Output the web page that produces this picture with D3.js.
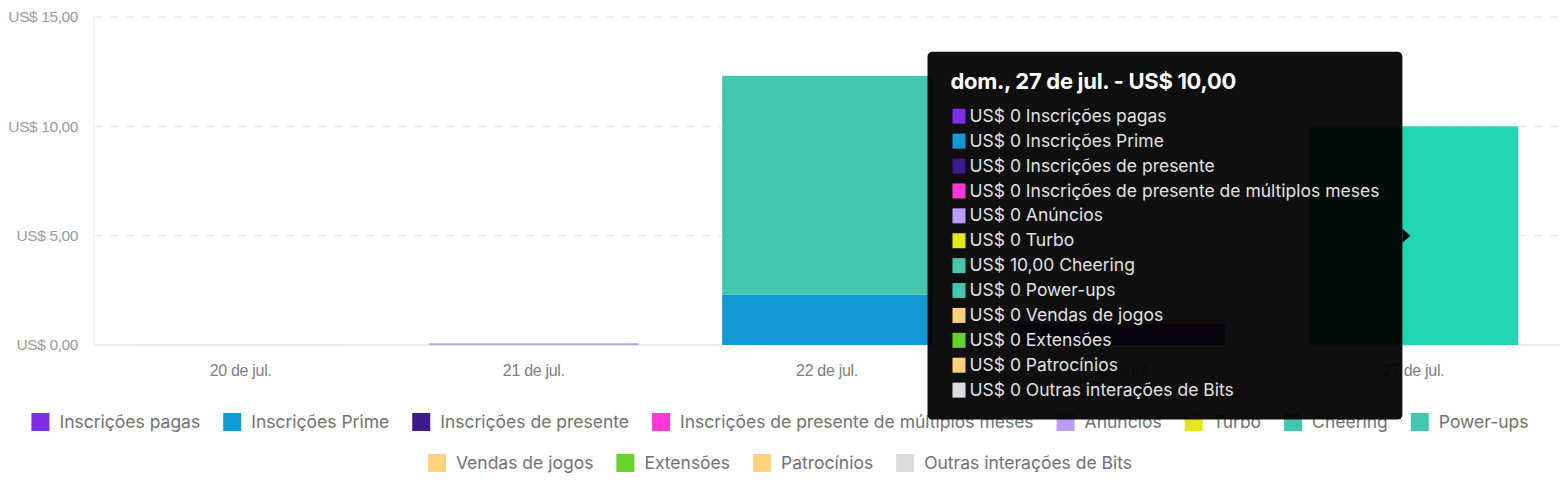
<!DOCTYPE html>
<html>
<head>
<meta charset="utf-8">
<script src="https://cdn.jsdelivr.net/npm/d3@7"></script>
<style>
  html, body { margin: 0; padding: 0; background: #ffffff; }
  svg { display: block; font-family: Inter, "Noto Sans", sans-serif; }
</style>
</head>
<body>
<svg id="chart" width="1560" height="488"></svg>
<script>
// ---- data ----
const categories = ["20 de jul.", "21 de jul.", "22 de jul.", "26 de jul.", "27 de jul."];
const seriesNames = [
  "Inscrições pagas", "Inscrições Prime", "Inscrições de presente",
  "Inscrições de presente de múltiplos meses", "Anúncios", "Turbo",
  "Cheering", "Power-ups", "Vendas de jogos", "Extensões", "Patrocínios",
  "Outras interações de Bits"
];
const seriesColors = [
  "#7d2ee6", "#1399d6", "#3e1a8f", "#fb3ad5", "#bd9dfb", "#e6e61a",
  "#43c6ad", "#43c6ad", "#fdd27c", "#66d22c", "#fdd27c", "#dcdcdc"
];
const inscricoesPagas   = [0, 0, 0, 0.98, 0];
const inscricoesPrime   = [0, 0, 2.31, 0, 0];
const inscricoesPresente = [0, 0, 0, 0, 0];
const presenteMultiplos = [0, 0, 0, 0, 0];
const anuncios          = [0, 0.08, 0, 0, 0];
const turbo             = [0, 0, 0, 0, 0];
const cheering          = [0, 0, 10.00, 0, 10.00];
const powerUps          = [0, 0, 0, 0, 0];
const vendasJogos       = [0, 0, 0, 0, 0];
const extensoes         = [0, 0, 0, 0, 0];
const patrocinios       = [0, 0, 0, 0, 0];
const outrasBits        = [0.02, 0, 0, 0, 0];
const yTicks = [0, 5, 10, 15];
const hoveredIndex = 4;
const tooltipTitle = "dom., 27 de jul. - US$ 10,00";

const seriesValues = [inscricoesPagas, inscricoesPrime, inscricoesPresente, presenteMultiplos,
  anuncios, turbo, cheering, powerUps, vendasJogos, extensoes, patrocinios, outrasBits];

// ---- build table ----
const table = categories.map((c, i) => {
  const row = { cat: c };
  seriesNames.forEach((s, j) => row[s] = seriesValues[j][i]);
  return row;
});
const stacked = d3.stack().keys(seriesNames)(table);

const svg = d3.select("#chart");
const fmt = v => "US$ " + d3.format(".2f")(v).replace(".", ",");
const fmtRow = v => v === 0 ? "US$ 0" : fmt(v);

const x = d3.scaleBand().domain(categories).range([94, 1560]).paddingInner(0.285).paddingOuter(0.1425);
const y = d3.scaleLinear().domain([0, 15]).range([345, 17]);

// grid
const grid = svg.append("g");
grid.selectAll("line.g").data(yTicks.filter(t => t > 0)).join("line")
  .attr("x1", 94).attr("x2", 1560)
  .attr("y1", d => y(d)).attr("y2", d => y(d))
  .attr("stroke", "#e3e3e3").attr("stroke-width", 1).attr("stroke-dasharray", "8,8");
grid.append("line").attr("x1", 94).attr("x2", 1560).attr("y1", y(0)).attr("y2", y(0))
  .attr("stroke", "#e6e6e8").attr("stroke-width", 1.5);
grid.append("line").attr("x1", 94).attr("x2", 94).attr("y1", y(15)).attr("y2", y(0))
  .attr("stroke", "#ececec").attr("stroke-width", 1);

// y axis
const yAxis = svg.append("g").attr("transform", "translate(86,0)")
  .call(d3.axisLeft(y).tickValues(yTicks).tickFormat(fmt).tickSize(0).tickPadding(8));
yAxis.select(".domain").remove();
yAxis.selectAll("text").attr("fill", "#9b9b9b").style("font-size", "15.5px").style("letter-spacing", "-0.4px");

// x axis
const xAxis = svg.append("g").attr("transform", `translate(0,${y(0)})`)
  .call(d3.axisBottom(x).tickSize(0).tickPadding(20));
xAxis.select(".domain").remove();
xAxis.selectAll("text").attr("fill", "#7e7e7e").style("font-size", "16px").style("letter-spacing", "-0.3px");

// bars
function hoverColor(c) {
  const h = d3.hsl(c);
  h.s = Math.min(1, h.s * 1.4); h.l = h.l * 0.92;
  return h.formatHex();
}
svg.append("g").selectAll("g").data(stacked).join("g")
  .each(function(layer, j) {
    d3.select(this).selectAll("rect").data(layer).join("rect")
      .attr("x", d => x(d.data.cat))
      .attr("width", x.bandwidth())
      .attr("y", d => y(d[1]))
      .attr("height", d => Math.max(0, y(d[0]) - y(d[1])))
      .attr("fill", (d, i) => i === hoveredIndex ? hoverColor(seriesColors[j]) : seriesColors[j]);
  });

// legend
const legend = svg.append("g").style("font-size", "17.5px");
const items = seriesNames.map((s, j) => {
  const t = legend.append("text").text(s).attr("fill", "#727272");
  return { s, j, t, w: t.node().getComputedTextLength() };
});
const sw = 18, gapT = 10, gapI = 23, maxW = 1535;
const rows = [[]];
let cur = 0;
items.forEach(it => {
  const iw = sw + gapT + it.w;
  const need = (rows[rows.length - 1].length ? gapI : 0) + iw;
  if (cur + need > maxW) { rows.push([]); cur = 0; }
  cur += (rows[rows.length - 1].length ? gapI : 0) + iw;
  rows[rows.length - 1].push(it);
});
const rowY = [422, 463];
rows.forEach((r, ri) => {
  const total = d3.sum(r, it => sw + gapT + it.w) + gapI * (r.length - 1);
  let xx = 780 - total / 2;
  r.forEach(it => {
    legend.append("rect").attr("x", xx).attr("y", rowY[ri] - 9).attr("width", sw).attr("height", sw)
      .attr("fill", seriesColors[it.j]);
    it.t.attr("x", xx + sw + gapT).attr("y", rowY[ri]).attr("dy", "0.35em");
    xx += sw + gapT + it.w + gapI;
  });
});

// tooltip
const tip = svg.append("g");
const tipBg = tip.append("g");
const title = tip.append("text").text(tooltipTitle).attr("fill", "#ffffff")
  .style("font-size", "22px").style("font-weight", "700").style("letter-spacing", "-0.3px");
const rowTexts = seriesNames.map((s, j) =>
  tip.append("text").text(fmtRow(seriesValues[j][hoveredIndex]) + " " + s)
    .attr("fill", "#e2e2e2").style("font-size", "17.5px"));
const padL = 23, rowStep = 24.9;
const contentW = Math.max(title.node().getComputedTextLength(),
  d3.max(rowTexts, t => 19 + t.node().getComputedTextLength()));
const tipW = contentW + padL * 2;
const tipH = 64 + rowStep * (seriesNames.length - 1) + 30;
const anchorX = x(categories[hoveredIndex]) + x.bandwidth() / 2 - 3;
const anchorY = y(5);
const tx = anchorX - 8 - tipW, ty = anchorY - tipH / 2;
tipBg.append("rect").attr("x", tx).attr("y", ty).attr("width", tipW).attr("height", tipH)
  .attr("rx", 5).attr("fill", "#000000").attr("fill-opacity", 0.94);
tipBg.append("path")
  .attr("d", `M${tx + tipW},${anchorY - 7} L${anchorX},${anchorY} L${tx + tipW},${anchorY + 7} Z`)
  .attr("fill", "#000000").attr("fill-opacity", 0.94);
title.attr("x", tx + padL).attr("y", ty + 37);
rowTexts.forEach((t, j) => {
  const cy = ty + 64 + j * rowStep;
  tip.append("rect").attr("x", tx + padL + 2).attr("y", cy - 7).attr("width", 13).attr("height", 15)
    .attr("fill", seriesColors[j]);
  t.attr("x", tx + padL + 19).attr("y", cy).attr("dy", "0.35em");
});
</script>
</body>
</html>
